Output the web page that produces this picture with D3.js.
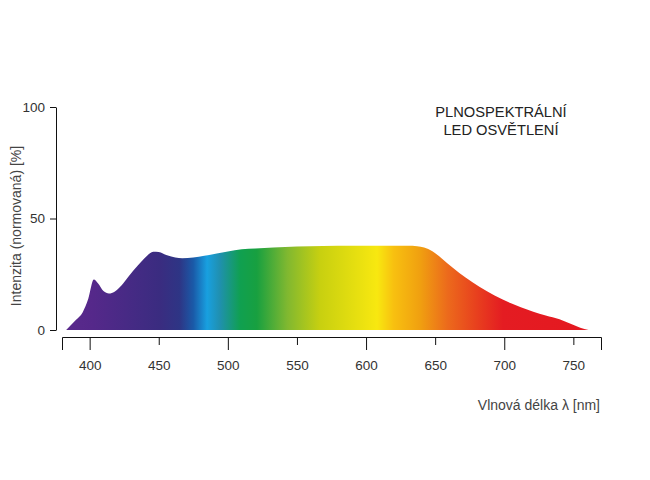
<!DOCTYPE html>
<html>
<head>
<meta charset="utf-8">
<script src="https://cdn.jsdelivr.net/npm/d3@7"></script>
<style>
  body { margin: 0; background: #fff; }
  svg text { font-family: "Liberation Sans", Arial, sans-serif; }
</style>
</head>
<body>
<svg id="chart" width="650" height="480"></svg>
<script>
// spectrum: wavelength [nm] and relative intensity [%]
var wavelengths = [383, 390, 395, 399, 403, 406, 410, 414, 418, 423, 428, 435, 441, 446, 450,
    456, 462, 467, 475, 483, 492, 500, 510, 520, 533, 550, 569, 590, 610, 630, 637, 642,
    648, 655, 663, 672, 682, 693, 704, 712, 721, 730, 740, 748, 755, 761];
var intensity = [0, 4.5, 8, 14, 22.7, 21, 17.5, 16.4, 17.2, 20, 23.9, 29, 33, 35.1, 35,
    33.5, 32.5, 32.2, 32.5, 33.3, 34.3, 35.2, 36.2, 36.6, 37, 37.4, 37.7, 37.8, 37.8, 37.8, 37.6, 37,
    35.3, 32, 27.8, 23.5, 19.4, 15.5, 12.2, 10.2, 8.2, 6.5, 4.8, 2.8, 1, 0];

var xTicks = [400, 450, 500, 550, 600, 650, 700, 750];
var yTicks = [0, 50, 100];
var titleLines = ["PLNOSPEKTRÁLNÍ", "LED OSVĚTLENÍ"];

// colour of the light at each wavelength (fill gradient)
var gradWl = [383, 402, 451, 465, 475, 485, 494, 509, 521, 543, 567, 608, 620, 639, 659, 680, 699, 765];
var gradColors = ["#5a2a8c", "#55288a", "#3a2c80", "#2e3585", "#1a5aa8", "#18a0e0", "#2090b0",
    "#10a050", "#18a040", "#80b830", "#c8d010", "#f8e810", "#f8c010", "#f0a010", "#ec6a1c",
    "#e8401e", "#e41c22", "#e41820"];

var svg = d3.select("#chart");

var x = d3.scaleLinear().domain([380, 770]).range([62, 601]);
var y = d3.scaleLinear().domain([0, 100]).range([330, 107]);

var grad = svg.append("defs").append("linearGradient")
    .attr("id", "spectrum")
    .attr("gradientUnits", "userSpaceOnUse")
    .attr("x1", x(380)).attr("x2", x(770))
    .attr("y1", 0).attr("y2", 0);
grad.selectAll("stop").data(gradWl).enter().append("stop")
    .attr("offset", function(d) { return (x(d) - x(380)) / (x(770) - x(380)); })
    .attr("stop-color", function(d, i) { return gradColors[i]; });

var area = d3.area()
    .x(function(d, i) { return x(wavelengths[i]); })
    .y0(y(0))
    .y1(function(d) { return y(d); })
    .curve(d3.curveMonotoneX);

svg.append("path")
    .datum(intensity)
    .attr("d", area)
    .attr("fill", "url(#spectrum)");

// x axis, alternating long and short ticks
var xAxis = svg.append("g")
    .attr("transform", "translate(0,337)")
    .call(d3.axisBottom(x).tickValues(xTicks).tickSize(13).tickSizeOuter(13));
xAxis.selectAll(".tick line")
    .attr("y2", function(d, i) { return i % 2 ? 8 : 13; });
xAxis.selectAll(".tick text").attr("y", 23);

var yAxis = svg.append("g")
    .attr("transform", "translate(56,0)")
    .call(d3.axisLeft(y).tickValues(yTicks).tickSize(6).tickSizeOuter(0).tickPadding(5));

[xAxis, yAxis].forEach(function(a) {
    a.select(".domain").attr("stroke", "#111");
    a.selectAll(".tick line").attr("stroke", "#111");
    a.selectAll(".tick text")
        .attr("font-size", "13.5px")
        .attr("fill", "#333")
        .style("font-family", "'Liberation Sans', Arial, sans-serif");
});

svg.append("text")
    .attr("x", 600)
    .attr("y", 410)
    .attr("text-anchor", "end")
    .attr("font-size", "14px")
    .attr("fill", "#444")
    .text("Vlnová délka λ [nm]");

svg.append("text")
    .attr("transform", "translate(21,226) rotate(-90)")
    .attr("text-anchor", "middle")
    .attr("font-size", "14px")
    .attr("fill", "#444")
    .text("Intenzita (normovaná) [%]");

svg.selectAll(".title").data(titleLines).enter().append("text")
    .attr("class", "title")
    .attr("x", 501)
    .attr("y", function(d, i) { return 117 + i * 17.5; })
    .attr("text-anchor", "middle")
    .attr("font-size", "14.7px")
    .attr("fill", "#222")
    .text(function(d) { return d; });
</script>
</body>
</html>
